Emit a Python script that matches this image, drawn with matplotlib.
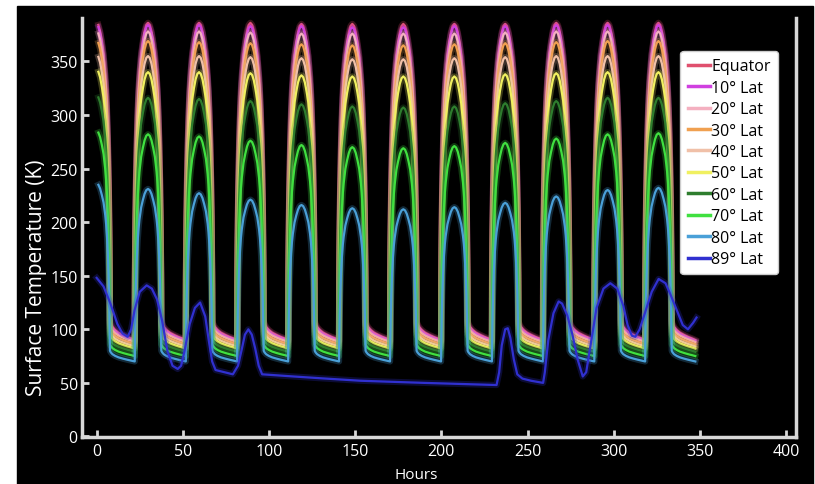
import matplotlib
matplotlib.use("Agg")
import matplotlib.pyplot as plt
from matplotlib.patches import Rectangle
import numpy as np

plt.rcParams['font.family'] = ['Open Sans', 'DejaVu Sans']

labels = ['Equator', '10° Lat', '20° Lat', '30° Lat', '40° Lat',
          '50° Lat', '60° Lat', '70° Lat', '80° Lat', '89° Lat']
colors = ['#e0506e', '#d040e0', '#f4b0c0', '#f0a050', '#f0c0a8',
          '#f0f060', '#2e7d2e', '#40e040', '#4aa0d8', '#3030d0']

# hour of each noon (first one is the start of the run)
peak_hours = [0.0, 29.8, 59.4, 89.2, 118.8, 148.3, 177.9, 207.5, 237.0, 266.6, 296.4, 325.9]
end_hour = 347.3

# noon temperature for each cycle
peak_eq = [386, 386, 386, 386, 385, 385, 385, 385, 385, 386, 386, 386]
peak_10 = [384, 384, 384, 383, 383, 382, 382, 383, 383, 384, 384, 384]
peak_20 = [378, 378, 378, 377, 376, 376, 376, 376, 377, 378, 378, 378]
peak_30 = [369, 369, 368, 367, 366, 365, 365, 366, 367, 368, 369, 369]
peak_40 = [356, 355, 355, 354, 353, 352, 352, 353, 354, 355, 355, 355]
peak_50 = [342, 340, 340, 339, 337, 336, 336, 336, 338, 339, 340, 340]
peak_60 = [318, 316, 315, 313, 310, 308, 307, 308, 311, 313, 316, 316]
peak_70 = [285, 282, 280, 276, 272, 270, 269, 271, 274, 278, 282, 283]
peak_80 = [236, 231, 227, 221, 216, 213, 212, 214, 218, 224, 230, 232]
peaks = [peak_eq, peak_10, peak_20, peak_30, peak_40, peak_50, peak_60, peak_70, peak_80]

# night temperature just after sunset and just before sunrise
dusk_temp = [108, 106, 104, 101, 98, 95, 91, 86, 80]
dawn_temp = [90, 89, 88, 86, 84, 82, 79, 75, 70]

# shape of the day arch (hours from noon, fraction of noon temp)
day_offset = [0, 1, 2, 3, 4, 5, 5.5, 6, 6.5, 7.0, 7.3, 7.6]
day_frac = [1.0, 0.995, 0.98, 0.955, 0.925, 0.875, 0.84, 0.79, 0.72, 0.62, 0.53, 0.40]
sunset_offset = 7.7
# shape of the night cooling (fraction of night, fraction between dawn and dusk)
night_pos = [0, 0.035, 0.1, 0.21, 0.35, 0.53, 0.7, 0.88, 1.0]
night_frac = [1.0, 0.85, 0.68, 0.52, 0.38, 0.26, 0.16, 0.07, 0.0]

# 89 deg latitude
hours_89 = [0, 4, 8, 12, 15, 18, 20, 22, 25, 29, 32, 35, 38, 41, 44, 47, 49, 51, 54, 57,
            60, 63, 65, 67, 69, 74, 79, 82, 84, 86, 88, 90, 92, 94, 96, 114, 133, 153, 190,
            232, 233.5, 235, 237, 238.5, 240, 242, 244, 247, 252, 259, 260, 262, 265, 268,
            270, 273, 276, 279, 282, 284, 287, 290, 294, 298, 302, 305.5, 308, 310.5, 312.5,
            315, 318, 322, 326, 330, 333, 336, 340, 343, 346, 348]
temps_89 = [148, 140, 124, 105, 96, 93, 100, 118, 135, 141, 138, 128, 108, 80, 66, 63, 66, 80,
            105, 120, 125, 112, 90, 70, 62, 60, 58, 66, 80, 95, 100, 95, 82, 66, 58, 56, 54,
            52, 50, 48, 60, 85, 100, 101, 92, 72, 58, 54, 52, 50, 60, 90, 115, 126, 124, 113,
            95, 72, 56, 60, 90, 120, 138, 143, 138, 122, 104, 94, 93, 100, 115, 135, 147, 143,
            132, 120, 104, 100, 106, 111]


def build_curve(pk, dusk, dawn):
    hs = []
    ts = []
    for k in range(len(peak_hours)):
        p = peak_hours[k]
        # morning side
        if k > 0:
            for off, fr in zip(day_offset[::-1], day_frac[::-1]):
                hs.append(p - off)
                ts.append(pk[k] * fr)
        # afternoon side
        for off, fr in zip(day_offset[1:], day_frac[1:]):
            hs.append(p + off)
            ts.append(pk[k] * fr)
        start = p + sunset_offset
        if k + 1 < len(peak_hours):
            stop = peak_hours[k + 1] - sunset_offset
        else:
            stop = end_hour
        for pos, fr in zip(night_pos, night_frac):
            hs.append(start + pos * (stop - start))
            ts.append(dawn + fr * (dusk - dawn))
    return hs, ts


fig = plt.figure(figsize=(8.15, 4.85), dpi=100)
fig.patch.set_facecolor('white')
bg = Rectangle((17 / 815, 0), (813 - 17) / 815, (485 - 7) / 485,
               transform=fig.transFigure, color='black', zorder=-10)
fig.patches.append(bg)

ax = fig.add_axes([82 / 815, 1 - 438 / 485, (796 - 82) / 815, (438 - 19) / 485])
ax.set_zorder(1)
ax.set_facecolor('black')

for i in range(10):
    if i < 9:
        h, t = build_curve(peaks[i], dusk_temp[i], dawn_temp[i])
    else:
        h, t = hours_89, temps_89
    # soft glow like the blurry original
    ax.plot(h, t, color=colors[i], lw=4.5, alpha=0.25, solid_joinstyle='round')
    ax.plot(h, t, color=colors[i], lw=1.6, label=labels[i])

ax.set_xlim(-8.5, 405.7)
ax.set_ylim(-0.5, 390.5)
ax.set_xticks(np.arange(0, 401, 50))
ax.set_yticks(np.arange(0, 351, 50))

axcol = '#d8d8d8'
for s in ['left', 'bottom', 'right']:
    ax.spines[s].set_color(axcol)
    ax.spines[s].set_linewidth(2.5)
ax.spines['top'].set_visible(False)
ax.tick_params(direction='in', length=5, width=2, color=axcol, labelcolor='white',
               labelsize=11.5)
ax.tick_params(axis='x', pad=4)
ax.tick_params(axis='y', pad=3)

fig.text(37 / 815, 1 - 278 / 485, 'Surface Temperature (K)', rotation=90,
         ha='center', va='center', color='white', fontsize=15, zorder=5)
fig.text(416 / 815, 1 - 476 / 485, 'Hours', ha='center', va='center',
         color='white', fontsize=11, zorder=5)

leg = ax.legend(loc='upper right', bbox_to_anchor=(0.975, 0.921), borderaxespad=0,
                fontsize=11.5, handlelength=1.4, handletextpad=0.1, labelspacing=0.34,
                borderpad=0.45, framealpha=1, fancybox=True, edgecolor='#cccccc')
for line in leg.get_lines():
    line.set_linewidth(2.5)

fig.savefig('out.png', dpi=100, facecolor=fig.get_facecolor())
